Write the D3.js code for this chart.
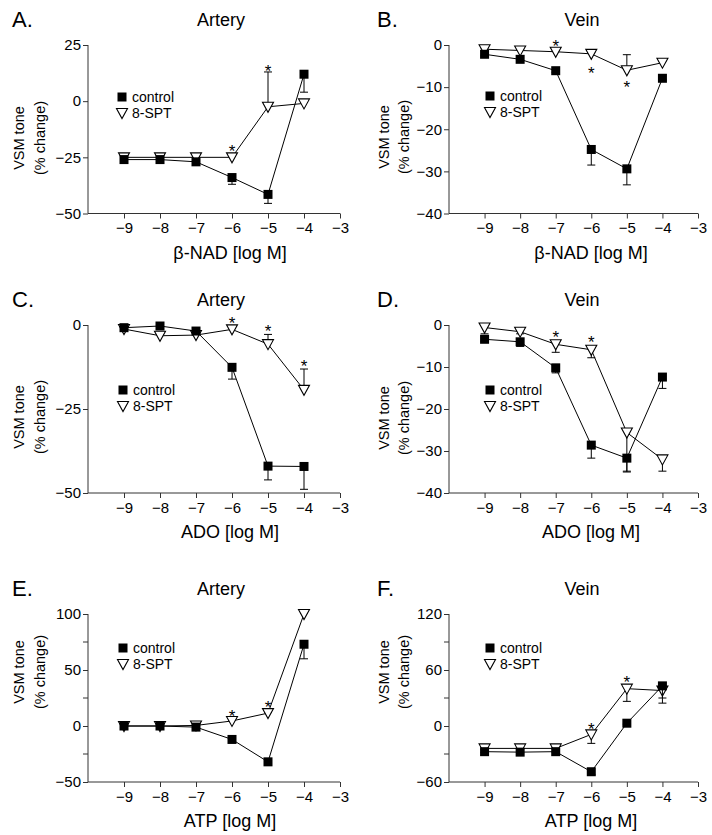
<!DOCTYPE html>
<html>
<head>
<meta charset="utf-8">
<script src="https://cdn.jsdelivr.net/npm/d3@7"></script>
<style>
  body { margin: 0; background: #fff; }
  svg { display: block; font-family: "Liberation Sans", Arial, sans-serif; }
</style>
</head>
<body>
<svg id="fig" width="712" height="835"></svg>
<script>
// doses (log M) and x axis ticks
var doses = [-9, -8, -7, -6, -5, -4];
var xTicks = [-9, -8, -7, -6, -5, -4, -3];

// A. beta-NAD, artery
var nadArteryCtrl    = [-26, -26, -27, -34, -41.5, 12];
var nadArteryCtrlErr = [0.8, 0.8, 0.8, 3, 4, 8];
var nadArterySpt     = [-25, -25, -25, -25, -2.5, -1];
var nadArterySptErr  = [0.5, 0.5, 0.5, 0.5, 15.5, 0.5];
// B. beta-NAD, vein
var nadVeinCtrl    = [-2.2, -3.4, -6.1, -24.8, -29.4, -7.9];
var nadVeinCtrlErr = [0.4, 0.4, 0.4, 3.7, 3.8, 0.4];
var nadVeinSpt     = [-1, -1.3, -1.6, -2.1, -6, -4.2];
var nadVeinSptErr  = [0.3, 0.3, 0.3, 0.3, 3.7, 0.4];
// C. adenosine, artery
var adoArteryCtrl    = [-0.8, -0.3, -1.8, -12.6, -42, -42.1];
var adoArteryCtrlErr = [0.5, 0.5, 0.5, 3.5, 4.1, 6.8];
var adoArterySpt     = [-1.2, -3.2, -3, -1.3, -5.7, -19.3];
var adoArterySptErr  = [0.4, 0.4, 0.4, 0.4, 2.9, 6.2];
// D. adenosine, vein
var adoVeinCtrl    = [-3.4, -4, -10.2, -28.6, -31.7, -12.4];
var adoVeinCtrlErr = [0.5, 1.1, 1.2, 3.1, 3.1, 2.7];
var adoVeinSpt     = [-0.6, -1.6, -4.6, -5.9, -25.6, -32];
var adoVeinSptErr  = [1.5, 0.5, 1.9, 1.9, 9.4, 2.8];
// E. ATP, artery
var atpArteryCtrl    = [0, 0, -1, -12, -32, 73];
var atpArteryCtrlErr = [0.5, 0.5, 0.5, 1, 2, 13];
var atpArterySpt     = [0, 0, 0.5, 4.5, 11.5, 100];
var atpArterySptErr  = [0.5, 0.5, 0.5, 0.5, 0.5, 0.5];
// F. ATP, vein
var atpVeinCtrl    = [-27.5, -28, -27.5, -49, 3, 43];
var atpVeinCtrlErr = [1, 1, 1, 3, 1, 13];
var atpVeinSpt     = [-24, -24, -24, -9, 40, 38];
var atpVeinSptErr  = [1, 1, 1, 9.6, 13.6, 13.5];

// significance marks [dose, value]
var nadArteryStars = [[-6, -20.3], [-5, 15.4]];
var nadVeinStars   = [[-7, 0.8], [-6, -5.8], [-5, -9.1]];
var adoArteryStars = [[-6, 1.7], [-5, -0.7], [-4, -11.1]];
var adoVeinStars   = [[-7, -1.9], [-6, -3.1]];
var atpArteryStars = [[-6, 12.8], [-5, 20.3]];
var atpVeinStars   = [[-6, 1], [-5, 51.4]];

var legendNames = ["control", "8-SPT"];

var panels = [
  { letter: "A.", title: "Artery", xLabel: "\u03b2-NAD [log M]", col: 0, row: 0,
    yDomain: [-50, 25], yTicks: [-50, -25, 0, 25], yMinor: [],
    ctrl: nadArteryCtrl, ctrlErr: nadArteryCtrlErr, ctrlDir: -1,
    spt: nadArterySpt, sptErr: nadArterySptErr, sptDir: 1,
    stars: nadArteryStars, yLabelY: 138, legend: [122, 97] },
  { letter: "B.", title: "Vein", xLabel: "\u03b2-NAD [log M]", col: 1, row: 0,
    yDomain: [-40, 0], yTicks: [-40, -30, -20, -10, 0], yMinor: [],
    ctrl: nadVeinCtrl, ctrlErr: nadVeinCtrlErr, ctrlDir: -1,
    spt: nadVeinSpt, sptErr: nadVeinSptErr, sptDir: 1,
    stars: nadVeinStars, yLabelY: 137, legend: [490, 96] },
  { letter: "C.", title: "Artery", xLabel: "ADO [log M]", col: 0, row: 1,
    yDomain: [-50, 0], yTicks: [-50, -25, 0], yMinor: [],
    ctrl: adoArteryCtrl, ctrlErr: adoArteryCtrlErr, ctrlDir: -1,
    spt: adoArterySpt, sptErr: adoArterySptErr, sptDir: 1,
    stars: adoArteryStars, yLabelY: 417, legend: [123, 390] },
  { letter: "D.", title: "Vein", xLabel: "ADO [log M]", col: 1, row: 1,
    yDomain: [-40, 0], yTicks: [-40, -30, -20, -10, 0], yMinor: [],
    ctrl: adoVeinCtrl, ctrlErr: adoVeinCtrlErr, ctrlDir: -1,
    spt: adoVeinSpt, sptErr: adoVeinSptErr, sptDir: -1,
    stars: adoVeinStars, yLabelY: 418, legend: [490, 390] },
  { letter: "E.", title: "Artery", xLabel: "ATP [log M]", col: 0, row: 2,
    yDomain: [-50, 100], yTicks: [-50, 0, 50, 100], yMinor: [-25, 25, 75],
    ctrl: atpArteryCtrl, ctrlErr: atpArteryCtrlErr, ctrlDir: -1,
    spt: atpArterySpt, sptErr: atpArterySptErr, sptDir: 1,
    stars: atpArteryStars, yLabelY: 672, legend: [123, 648] },
  { letter: "F.", title: "Vein", xLabel: "ATP [log M]", col: 1, row: 2,
    yDomain: [-60, 120], yTicks: [-60, 0, 60, 120], yMinor: [-30, 30, 90],
    ctrl: atpVeinCtrl, ctrlErr: atpVeinCtrlErr, ctrlDir: -1,
    spt: atpVeinSpt, sptErr: atpVeinSptErr, sptDir: -1,
    stars: atpVeinStars, yLabelY: 672, legend: [490, 648] }
];

var cols = [ { x0: 88, x1: 340, letterX: 12, yl1: 24, yl2: 45 },
             { x0: 449, x1: 698, letterX: 377, yl1: 388.5, yl2: 408.5 } ];
var rows = [ { top: 45, bottom: 213.5 },
             { top: 325, bottom: 493 },
             { top: 614, bottom: 782 } ];

var svg = d3.select("#fig");
var axisColor = "#333";

function triangle(g, cx, cy) {
  g.append("path")
    .attr("d", "M" + (cx - 5.5) + "," + (cy - 4.5) + "L" + (cx + 5.5) + "," + (cy - 4.5) + "L" + cx + "," + (cy + 5.5) + "Z")
    .attr("fill", "#fff").attr("stroke", "#000").attr("stroke-width", 1.1);
}
function square(g, cx, cy) {
  g.append("rect")
    .attr("x", cx - 4.5).attr("y", cy - 4.5)
    .attr("width", 9).attr("height", 9)
    .attr("fill", "#000");
}

function drawSeries(g, x, y, vals, errs, dir, kind) {
  var pts = doses.map(function (d, i) { return { dose: d, v: vals[i], e: errs[i] }; });
  var line = d3.line().x(function (d) { return x(d.dose); }).y(function (d) { return y(d.v); });
  g.append("path").datum(pts)
    .attr("d", line).attr("fill", "none").attr("stroke", "#000").attr("stroke-width", 1);
  pts.forEach(function (d) {
    var xx = x(d.dose), y0 = y(d.v), y1 = y(d.v + dir * d.e);
    g.append("line").attr("x1", xx).attr("x2", xx).attr("y1", y0).attr("y2", y1)
      .attr("stroke", "#000").attr("stroke-width", 1);
    g.append("line").attr("x1", xx - 4).attr("x2", xx + 4).attr("y1", y1).attr("y2", y1)
      .attr("stroke", "#000").attr("stroke-width", 1);
  });
  pts.forEach(function (d) {
    if (kind === "ctrl") square(g, x(d.dose), y(d.v));
    else triangle(g, x(d.dose), y(d.v));
  });
}

panels.forEach(function (p) {
  var c = cols[p.col], r = rows[p.row];
  var g = svg.append("g");

  var x = d3.scaleLinear().domain([-10, -3]).range([c.x0, c.x1]);
  var y = d3.scaleLinear().domain(p.yDomain).range([r.bottom, r.top]);

  // axes
  var xAxis = g.append("g").attr("transform", "translate(0," + r.bottom + ")")
    .call(d3.axisBottom(x).tickValues(xTicks).tickSize(5).tickPadding(2).tickFormat(d3.format("d")));
  var yAxis = g.append("g").attr("transform", "translate(" + c.x0 + ",0)")
    .call(d3.axisLeft(y).tickValues(p.yTicks).tickSize(5).tickPadding(2).tickFormat(d3.format("d")));
  [xAxis, yAxis].forEach(function (a) {
    a.selectAll(".tick line").attr("stroke", axisColor);
    a.selectAll("text").attr("font-size", 15).attr("font-family", "Liberation Sans, Arial, sans-serif").attr("fill", "#000");
  });
  xAxis.select(".domain").remove();
  yAxis.select(".domain").remove();
  g.append("line").attr("x1", c.x0).attr("x2", c.x1).attr("y1", r.bottom).attr("y2", r.bottom)
    .attr("stroke", axisColor);
  g.append("line").attr("x1", c.x0).attr("x2", c.x0).attr("y1", r.top).attr("y2", r.bottom)
    .attr("stroke", axisColor);
  p.yMinor.forEach(function (v) {
    g.append("line").attr("x1", c.x0 - 5).attr("x2", c.x0).attr("y1", y(v)).attr("y2", y(v))
      .attr("stroke", axisColor);
  });
  xAxis.selectAll("text").attr("dy", "0.85em");

  // titles and labels
  g.append("text").attr("x", c.letterX).attr("y", r.top - 18)
    .attr("font-size", 22).text(p.letter);
  g.append("text").attr("x", c.x0 + 133).attr("y", r.top - 19)
    .attr("font-size", 18).attr("text-anchor", "middle").text(p.title);
  g.append("text").attr("x", c.x0 + 142).attr("y", r.bottom + 45)
    .attr("font-size", 18).attr("text-anchor", "middle").text(p.xLabel);
  g.append("text").attr("transform", "rotate(-90)")
    .attr("x", -p.yLabelY).attr("y", c.yl1)
    .attr("font-size", 14.5).attr("text-anchor", "middle").text("VSM tone");
  g.append("text").attr("transform", "rotate(-90)")
    .attr("x", -p.yLabelY).attr("y", c.yl2)
    .attr("font-size", 14.5).attr("text-anchor", "middle").text("(% change)");

  // data
  drawSeries(g, x, y, p.spt, p.sptErr, p.sptDir, "spt");
  drawSeries(g, x, y, p.ctrl, p.ctrlErr, p.ctrlDir, "ctrl");

  // significance
  p.stars.forEach(function (s) {
    g.append("text").attr("x", x(s[0])).attr("y", y(s[1]) + 10)
      .attr("font-size", 17).attr("text-anchor", "middle").text("*");
  });

  // legend
  var lx = p.legend[0], ly = p.legend[1];
  square(g, lx, ly);
  triangle(g, lx, ly + 16);
  g.append("text").attr("x", lx + 10).attr("y", ly + 5).attr("font-size", 14).text(legendNames[0]);
  g.append("text").attr("x", lx + 10).attr("y", ly + 21).attr("font-size", 14).text(legendNames[1]);
});
</script>
</body>
</html>
